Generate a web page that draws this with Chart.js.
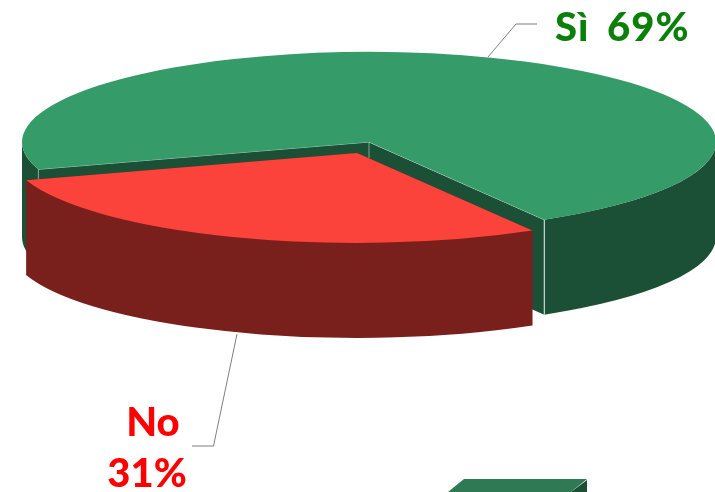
<!DOCTYPE html>
<html>
<head>
<meta charset="utf-8">
<style>
  html, body { margin: 0; padding: 0; background: #fff; overflow: hidden; }
  canvas { display: block; }
</style>
<script src="https://cdn.jsdelivr.net/npm/chart.js@4"></script>
</head>
<body>
<canvas id="pie" width="715" height="492"></canvas>
<script>
/* ======================= DATA ======================= */
const labels = ['Sì', 'No'];
const values = [69, 31];
const topColours = ['#359b68', '#fb433c'];
const sideColours = ['#1b4f36', '#7a201c'];
const textColours = ['#0a7f0a', '#ff0000'];
const explode = [0, 26];

/* ======================= 3D VIEW ======================= */
const VIEW = { cx: 369, cy: 142, rx: 347, ry: 90, depth: 95, radius: 200, explodeX: 0.74 };
// the reference view squeezes the front of the pie a little
const SQUEEZE = 4.8 * Math.PI / 180;
const FRONT = 111 * Math.PI / 180;
const squeeze = a => a - SQUEEZE * Math.sin(2 * (a - FRONT));

// screen centre of a slice, once exploded
function sliceCentre(el, i) {
  const mid = (el.startAngle + el.endAngle) / 2;
  return {
    x: VIEW.cx + Math.cos(mid) * VIEW.explodeX * explode[i] / VIEW.radius * VIEW.rx,
    y: VIEW.cy + Math.sin(mid) * explode[i] / VIEW.radius * VIEW.ry
  };
}

function rimPoint(c, angle) {
  return { x: c.x + Math.cos(angle) * VIEW.rx, y: c.y + Math.sin(angle) * VIEW.ry };
}

function edge(ctx, a, b, colour) {
  ctx.strokeStyle = colour;
  ctx.lineWidth = 1;
  ctx.beginPath();
  ctx.moveTo(a.x, a.y);
  ctx.lineTo(b.x, b.y);
  ctx.stroke();
}

function wall(ctx, c, p, d) {
  ctx.beginPath();
  ctx.moveTo(c.x, c.y);
  ctx.lineTo(p.x, p.y);
  ctx.lineTo(p.x, p.y + d);
  ctx.lineTo(c.x, c.y + d);
  ctx.closePath();
  ctx.fill();
}

function drawBody(ctx, el, i) {
  const c = sliceCentre(el, i);
  const d = VIEW.depth;
  ctx.fillStyle = sideColours[i];
  wall(ctx, c, rimPoint(c, el.startAngle), d);
  wall(ctx, c, rimPoint(c, el.endAngle), d);

  // curved outside: only the front half of the ellipse shows
  [0, 2 * Math.PI].forEach(turn => {
    const s = Math.max(el.startAngle, turn);
    const e = Math.min(el.endAngle, turn + Math.PI);
    if (e <= s) return;
    ctx.beginPath();
    ctx.ellipse(c.x, c.y, VIEW.rx, VIEW.ry, 0, s, e);
    ctx.ellipse(c.x, c.y + d, VIEW.rx, VIEW.ry, 0, e, s, true);
    ctx.closePath();
    ctx.fill();
  });
}

/* ==================== PLUGIN: 3D PIE =================== */
const pie3d = {
  id: 'pie3d',
  afterDatasetUpdate(chart) {
    const arcs = chart.getDatasetMeta(0).data;
    arcs.forEach(el => {
      el.startAngle = squeeze(el.startAngle);
      el.endAngle = squeeze(el.endAngle);
    });
    // shift after the squeeze so the top faces follow the body
    const cx = arcs[0].x, cy = arcs[0].y;
    chart.$pieCentre = { x: cx, y: cy };
    arcs.forEach((el, i) => {
      const mid = (el.startAngle + el.endAngle) / 2;
      el.x = cx + Math.cos(mid) * VIEW.explodeX * explode[i];
      el.y = cy + Math.sin(mid) * explode[i];
    });
  },
  beforeDatasetDraw(chart) {
    const ctx = chart.ctx;
    const arcs = chart.getDatasetMeta(0).data;
    const g = arcs[0];
    const apex = sliceCentre(g, 0);
    const left = rimPoint(apex, g.startAngle);
    const right = rimPoint(apex, g.endAngle);
    const down = (p, d) => ({ x: p.x, y: p.y + d });

    drawBody(ctx, g, 0);

    // light edges of the cut in the green slice
    edge(ctx, apex, down(apex, 16), '#7fa792');
    edge(ctx, left, down(left, 14), '#7fa792');
    edge(ctx, right, down(right, VIEW.depth), '#e6efe9');

    drawBody(ctx, arcs[1], 1);

    edge(ctx, left, apex, '#9cc4ae');
    edge(ctx, apex, right, '#cfe3d7');

    // the library draws the top faces inside this flattened view
    const c = chart.$pieCentre;
    ctx.save();
    ctx.translate(VIEW.cx, VIEW.cy);
    ctx.scale(VIEW.rx / VIEW.radius, VIEW.ry / VIEW.radius);
    ctx.translate(-c.x, -c.y);
  },
  afterDatasetDraw(chart) {
    chart.ctx.restore();
  },
  afterDraw(chart) {
    const ctx = chart.ctx;

    // leader lines
    ctx.strokeStyle = '#7f7f7f';
    ctx.lineWidth = 1;
    ctx.beginPath();
    ctx.moveTo(488, 57); ctx.lineTo(516, 24); ctx.lineTo(537, 24);
    ctx.moveTo(237, 334); ctx.lineTo(213.5, 446); ctx.lineTo(192, 446);
    ctx.stroke();

    // labels
    ctx.font = '900 40px Lato';
    ctx.textBaseline = 'alphabetic';
    ctx.textAlign = 'left';
    ctx.fillStyle = textColours[0];
    ctx.letterSpacing = '1px';
    ctx.fillText(labels[0], 555, 41);
    ctx.fillText(values[0] + '%', 607, 41);
    ctx.letterSpacing = '0px';
    ctx.fillStyle = textColours[1];
    ctx.textAlign = 'center';
    ctx.fillText(labels[1], 153, 436);
    ctx.fillText(values[1] + '%', 147, 487);

    // corner of the next shape, cut off by the slide
    ctx.fillStyle = '#2f7a55';
    ctx.beginPath();
    ctx.moveTo(464, 479); ctx.lineTo(587, 479); ctx.lineTo(571, 492); ctx.lineTo(448, 492);
    ctx.closePath();
    ctx.fill();
    ctx.fillStyle = sideColours[0];
    ctx.beginPath();
    ctx.moveTo(587, 480); ctx.lineTo(587, 492); ctx.lineTo(571, 492);
    ctx.closePath();
    ctx.fill();
  }
};

/* ======================= CHART ======================= */
new Chart(document.getElementById('pie'), {
  type: 'pie',
  data: {
    labels,
    datasets: [{
      data: values,
      backgroundColor: topColours,
      borderWidth: 0,
      clip: false
    }]
  },
  options: {
    responsive: false,
    animation: false,
    rotation: 256.8,
    radius: VIEW.radius,
    plugins: { legend: { display: false }, tooltip: { enabled: false } }
  },
  plugins: [pie3d]
});
</script>
</body>
</html>
